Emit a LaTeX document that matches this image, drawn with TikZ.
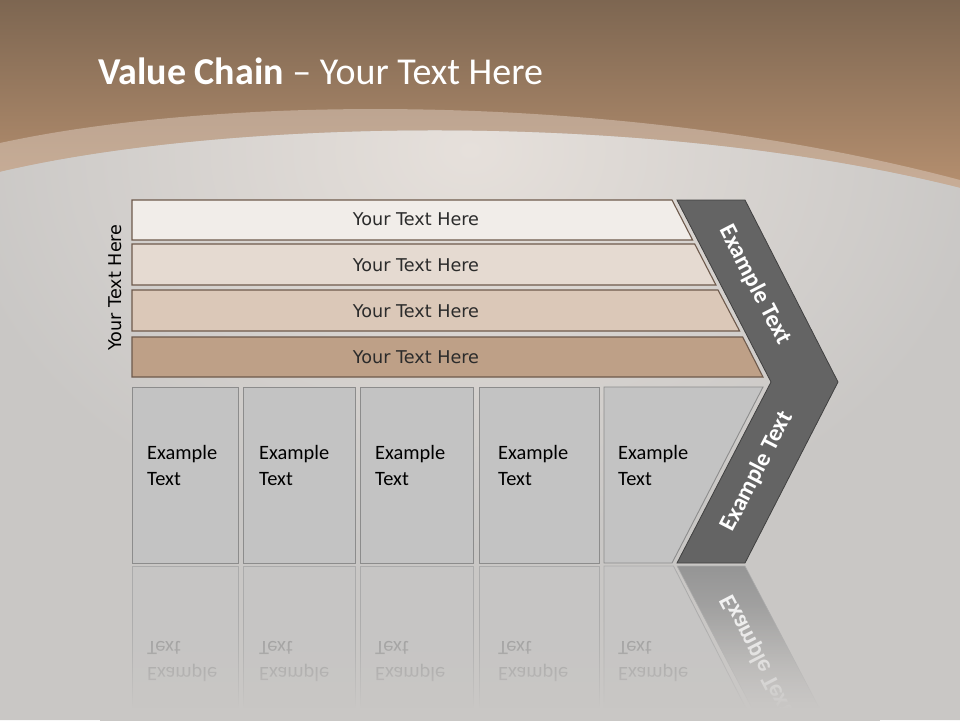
\documentclass[tikz,border=0pt]{standalone}
\usepackage{fontspec}
\setmainfont{Carlito}
\newfontfamily\barfont{DejaVu Sans}
\definecolor{bgGray}{HTML}{C9C7C5}
\definecolor{brownTop}{HTML}{7D6651}
\definecolor{brownBot}{HTML}{B99271}
\definecolor{bandCol}{HTML}{D8C6B8}
\definecolor{glowCol}{HTML}{E6E0DB}
\definecolor{barA}{HTML}{F1EDE9}
\definecolor{barB}{HTML}{E5DAD1}
\definecolor{barC}{HTML}{DBC8B8}
\definecolor{barD}{HTML}{BEA087}
\definecolor{barLine}{HTML}{6E5A4C}
\definecolor{boxFill}{HTML}{C3C3C3}
\definecolor{boxLine}{HTML}{8C8C8C}
\definecolor{chevFill}{HTML}{646464}
\definecolor{chevLine}{HTML}{404040}
\definecolor{txtDark}{HTML}{2B2B2B}
\definecolor{refText}{HTML}{9A9A9A}
\definecolor{refLine}{HTML}{ABABAB}
\definecolor{refChev}{HTML}{959595}
\tikzset{
  barshape/.style={draw=barLine, line width=1.1pt},
  bartext/.style={font=\barfont\fontsize{17.6}{20}\selectfont, text=txtDark, inner sep=0pt},
  boxshape/.style={fill=boxFill, draw=boxLine, line width=0.9pt},
  boxtext/.style={font=\fontsize{20.4}{24}\selectfont, text=black, anchor=base west, inner sep=0pt},
  reftext/.style={font=\fontsize{20.4}{24}\selectfont, text=refText, anchor=base west, inner sep=0pt},
  refshape/.style={fill=boxFill, fill opacity=0.35, draw=refLine, line width=0.8pt},
  chevtext/.style={font=\bfseries\fontsize{24}{28}\selectfont, text=white, inner sep=0pt},
}
\begin{document}
\begin{tikzpicture}[x=1pt,y=-1pt]
\useasboundingbox (0,0) rectangle (960,720);
% background
\fill[bgGray] (0,0) rectangle (960,720);
\shade[top color=brownTop, bottom color=brownBot] (0,0) rectangle (960,200);
\fill[bandCol, opacity=0.55] (0,143) .. controls (220,95) and (620,90) .. (960,180) -- (960,240) -- (0,240) -- cycle;
\fill[bgGray] (0,172) .. controls (220,120) and (640,108) .. (960,188) -- (960,720) -- (0,720) -- cycle;
\begin{scope}
  \clip (0,172) .. controls (220,120) and (640,108) .. (960,188) -- (960,720) -- (0,720) -- cycle;
  \shade[inner color=glowCol, outer color=bgGray] (470,150) ellipse (520 and 400);
\end{scope}
% title
\node[anchor=base west, text=white, font=\fontsize{38}{44}\selectfont, inner sep=0pt] (title) at (98,84) {\textbf{Value Chain} – Your Text Here};
% side label
\node[bartext, text=black, rotate=90] (side) at (115.5,287.5) {Your Text Here};
% bars
\filldraw[barshape, fill=barA] (132,200) -- (672,200) -- (692.6,240) -- (132,240) -- cycle;
\filldraw[barshape, fill=barB] (132,244) -- (694.7,244) -- (715.9,285) -- (132,285) -- cycle;
\filldraw[barshape, fill=barC] (132,290) -- (718,290) -- (739.6,331) -- (132,331) -- cycle;
\filldraw[barshape, fill=barD] (132,337) -- (742.7,337) -- (763,377) -- (132,377) -- cycle;
\node[bartext] (b1) at (416,219.5) {Your Text Here};
\node[bartext] (b2) at (416,265.5) {Your Text Here};
\node[bartext] (b3) at (416,311) {Your Text Here};
\node[bartext] (b4) at (416,357) {Your Text Here};
% chevron
\filldraw[fill=chevFill, draw=chevLine, line width=0.8pt] (677,200) -- (745,200) -- (838,382) -- (745,563) -- (677,563) -- (771,382) -- cycle;
\node[chevtext, rotate=-62.7] (c1) at (755,285) {Example Text};
\node[chevtext, rotate=62.7] (c2) at (757,471.5) {Example Text};
% boxes
\filldraw[boxshape] (132,387) rectangle (238,563);
\filldraw[boxshape] (243,387) rectangle (355,563);
\filldraw[boxshape] (360,387) rectangle (473,563);
\filldraw[boxshape] (479,387) rectangle (599,563);
\filldraw[boxshape] (604,387) -- (763,387) -- (672,563) -- (604,563) -- cycle;
\foreach \x/\n in {147/1,259/2,375/3,498/4,618/5}{
  \node[boxtext] (e\n a) at (\x,459) {Example};
  \node[boxtext] (e\n b) at (\x,485) {Text};
}
% reflections
\filldraw[refshape] (132,566) rectangle (238,740);
\filldraw[refshape] (243,566) rectangle (355,740);
\filldraw[refshape] (360,566) rectangle (473,740);
\filldraw[refshape] (479,566) rectangle (599,740);
\filldraw[refshape] (604,566) -- (673.5,566) -- (762,740) -- (604,740) -- cycle;
\foreach \x/\n in {147/1,259/2,375/3,498/4,618/5}{
  \node[reftext] (r\n a) at (\x,667) {\scalebox{1}[-1]{Example}};
  \node[reftext] (r\n b) at (\x,641) {\scalebox{1}[-1]{Text}};
}
\shade[top color=refChev, bottom color=bgGray, draw=refLine, line width=0.6pt] (677,566) -- (745,566) -- (838,744) -- (771,744) -- cycle;
\node[chevtext, text=white!90!gray, rotate=-62.7] (rc) at (757,654.5) {\scalebox{1}[-1]{Example Text}};
% stepped fade of the reflection
\foreach \i in {0,...,54}{
  \pgfmathsetmacro\op{min(1,((\i+1)/55)^1.5)}
  \fill[bgGray, fill opacity=\op] (100,{600+2*\i}) rectangle (880,{602+2*\i});
}
\fill[bgGray] (100,710) rectangle (880,745);
\end{tikzpicture}
\end{document}
